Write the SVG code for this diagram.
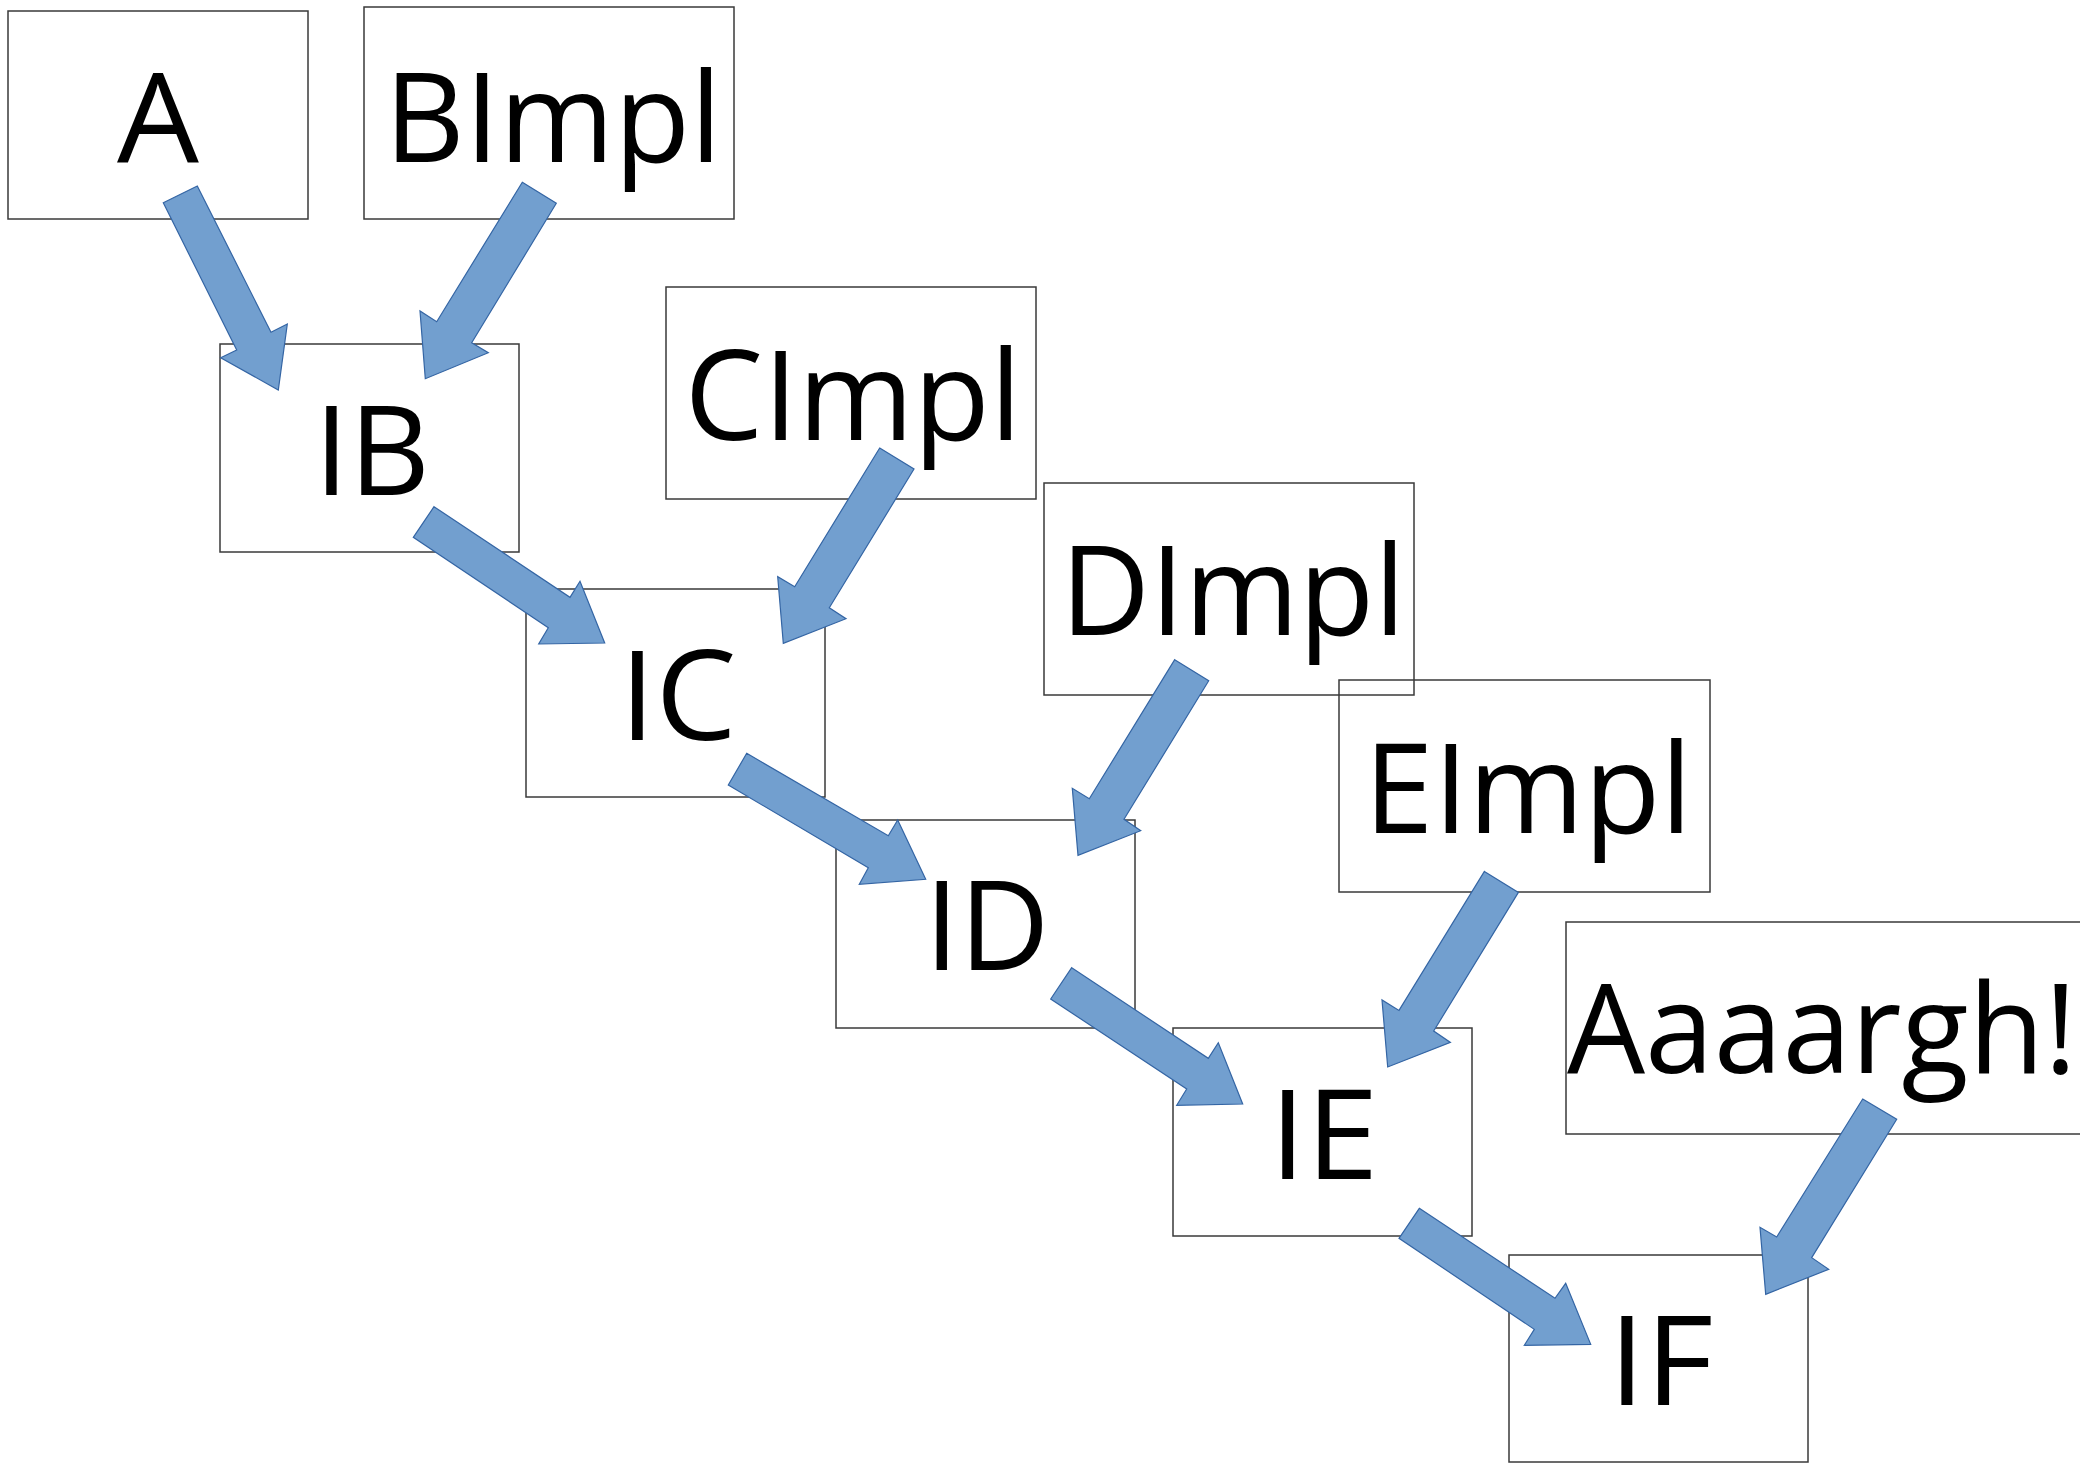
<svg xmlns="http://www.w3.org/2000/svg" width="2080" height="1463" viewBox="0 0 2080 1463">
<style>
.box{fill:none;stroke:#3a3a3a;stroke-width:1.5}
.lbl{font-family:"Open Sans","Noto Sans","Liberation Sans",sans-serif;font-size:125px;fill:#000;text-anchor:middle}
.arr{fill:#729fcf;stroke:#3465a4;stroke-width:1.2;stroke-linejoin:miter}
</style>
<rect width="2080" height="1463" fill="#fff"/>
<g id="node-A"><rect class="box" x="8" y="11" width="300" height="208"/><text class="lbl" x="158" y="162" textLength="82" lengthAdjust="spacingAndGlyphs">A</text></g>
<g id="node-BImpl"><rect class="box" x="364" y="7" width="370" height="212"/><text class="lbl" x="553" y="162" textLength="337" lengthAdjust="spacingAndGlyphs">BImpl</text></g>
<g id="node-IB"><rect class="box" x="220" y="344" width="299" height="208"/><text class="lbl" x="372" y="495" textLength="116" lengthAdjust="spacingAndGlyphs">IB</text></g>
<g id="node-CImpl"><rect class="box" x="666" y="287" width="370" height="212"/><text class="lbl" x="853" y="440" textLength="337" lengthAdjust="spacingAndGlyphs">CImpl</text></g>
<g id="node-IC"><rect class="box" x="526" y="589" width="299" height="208"/><text class="lbl" x="678" y="740" textLength="117" lengthAdjust="spacingAndGlyphs">IC</text></g>
<g id="node-DImpl"><rect class="box" x="1044" y="483" width="370" height="212"/><text class="lbl" x="1233" y="635" textLength="345" lengthAdjust="spacingAndGlyphs">DImpl</text></g>
<g id="node-ID"><rect class="box" x="836" y="820" width="299" height="208"/><text class="lbl" x="987" y="970" textLength="125" lengthAdjust="spacingAndGlyphs">ID</text></g>
<g id="node-EImpl"><rect class="box" x="1339" y="680" width="371" height="212"/><text class="lbl" x="1528" y="833" textLength="328" lengthAdjust="spacingAndGlyphs">EImpl</text></g>
<g id="node-IE"><rect class="box" x="1173" y="1028" width="299" height="208"/><text class="lbl" x="1324" y="1179" textLength="109" lengthAdjust="spacingAndGlyphs">IE</text></g>
<g id="node-Aaaargh"><rect class="box" x="1566" y="922" width="600" height="212"/><text class="lbl" x="1822" y="1073" textLength="510" lengthAdjust="spacingAndGlyphs">Aaaargh!</text></g>
<g id="node-IF"><rect class="box" x="1509" y="1255" width="299" height="207"/><text class="lbl" x="1661" y="1405" textLength="105" lengthAdjust="spacingAndGlyphs">IF</text></g>
<g id="connectors">
<polygon class="arr" points="163.3,202.7 197.3,186 271,332.3 287.3,324 278.3,390 220.7,357.7 236.7,350"/>
<polygon class="arr" points="522.3,182.3 556.3,203.3 471.7,342.7 488.3,352.7 425.3,378.7 420,311 436.7,321.7"/>
<polygon class="arr" points="434,506.7 570,597.3 580,581.3 604.7,643 538.7,644 548.3,627.7 413.3,537.3"/>
<polygon class="arr" points="879.7,448 914,469 829.3,607.7 846,618.7 783.3,643.3 777.7,576.7 794.7,586.7"/>
<polygon class="arr" points="746.7,753.3 888.3,835.7 897.7,820 925.7,879.3 859.3,884.3 868.3,867.7 728.3,785"/>
<polygon class="arr" points="1174.7,659.7 1208.7,680.7 1124,819.3 1140.7,830.7 1078,855.3 1072.3,788.3 1089.3,798.7"/>
<polygon class="arr" points="1071.7,967.7 1208.3,1058.3 1218.3,1042.7 1242.7,1104 1176.7,1105.3 1186.7,1089 1050.7,999"/>
<polygon class="arr" points="1484.4,871.4 1518.4,892.4 1433.7,1031 1450.4,1042.4 1387.7,1067 1382,1000 1399,1010.4"/>
<polygon class="arr" points="1419.3,1208.3 1555,1298.3 1565.7,1283.3 1590.7,1344.3 1524.3,1345.3 1534.3,1329.3 1399,1238.3"/>
<polygon class="arr" points="1862.7,1099 1896.7,1119.3 1811.7,1257.7 1828.7,1269.3 1765.7,1294.3 1760,1227.3 1776.7,1237"/>
</g>
</svg>
